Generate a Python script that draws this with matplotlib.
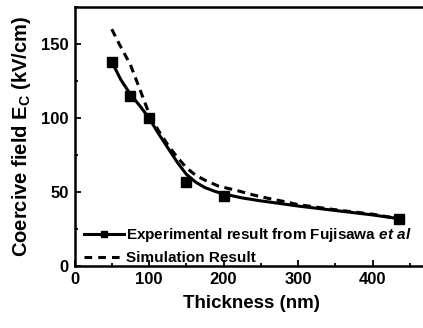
import matplotlib
matplotlib.use("Agg")
import matplotlib.pyplot as plt
from matplotlib.lines import Line2D
from matplotlib.ticker import MultipleLocator

plt.rcParams['font.family'] = ['Liberation Sans', 'DejaVu Sans']
plt.rcParams['font.weight'] = 'bold'
plt.rcParams['mathtext.fontset'] = 'custom'
plt.rcParams['mathtext.rm'] = 'Liberation Sans:bold'
plt.rcParams['mathtext.it'] = 'Liberation Sans:italic:bold'
plt.rcParams['mathtext.bf'] = 'Liberation Sans:bold'

# Experimental data points (Fujisawa et al)
exp_thickness = [50, 75, 100, 150, 200, 435]
exp_field = [138, 115, 100, 57, 47, 32]

fit_thickness = [50, 62, 75, 88, 100, 112, 125, 138, 150, 163, 175, 188, 200,
                 225, 250, 275, 300, 350, 400, 435]
fit_field = [138, 126, 116, 108, 100, 90, 80, 70, 62, 56.5, 53, 50.5, 48.7,
             46, 44, 42.3, 40.5, 37.5, 34.5, 32]

# Simulation result
sim_thickness = [50, 60, 75, 88, 100, 112, 125, 137, 150, 162, 175, 193, 218,
                 240, 260, 283, 300, 350, 400, 435]
sim_field = [160, 150, 136, 119, 103, 92, 82, 74, 66.5, 61.5, 58, 54, 51,
             48, 45.7, 43.4, 41.5, 38, 35, 32]

W, H = 423, 328
fig = plt.figure(figsize=(W / 100, H / 100), dpi=100)
ax = fig.add_axes([74.5 / W, 1 - 266 / H, (428.5 - 74.5) / W, (266 - 7) / H])

ax.plot(fit_thickness, fit_field, color='black', lw=2.2, solid_capstyle='round')
ax.plot(exp_thickness, exp_field, linestyle='none', marker='s', markersize=6.5,
        color='black')
ax.plot(sim_thickness, sim_field, color='black', lw=2.2, linestyle=(0, (2.6, 1.8)))

ax.set_xlim(0, 475)
ax.set_ylim(0, 175)
ax.xaxis.set_major_locator(MultipleLocator(100))
ax.xaxis.set_minor_locator(MultipleLocator(50))
ax.yaxis.set_major_locator(MultipleLocator(50))
ax.yaxis.set_minor_locator(MultipleLocator(25))
ax.tick_params(which='both', direction='in', width=1.3, labelsize=12, pad=4)
ax.tick_params(which='major', length=4)
ax.tick_params(which='minor', length=2)
for s in ax.spines.values():
    s.set_linewidth(1.8)
ax.spines['right'].set_visible(False)

ax.set_xlabel('Thickness (nm)', fontsize=13.5, fontweight='bold', labelpad=6)
ax.set_ylabel(r'Coercive field E$_\mathrm{C}$ (kV/cm)', fontsize=14.5,
              fontweight='bold', labelpad=6)

handles = [
    Line2D([], [], color='black', lw=2.2, marker='s', markersize=5),
    Line2D([], [], color='black', lw=2.2, linestyle=(0, (2.5, 2))),
]
labels = [r'Experimental result from Fujisawa $et\ al$', 'Simulation Result']
ax.legend(handles, labels, loc='lower left', frameon=False, fontsize=11,
          handlelength=2.6, handletextpad=0.15, labelspacing=0.45,
          borderaxespad=0.0, bbox_to_anchor=(0.01, -0.02))

fig.savefig('out.png', dpi=100)
